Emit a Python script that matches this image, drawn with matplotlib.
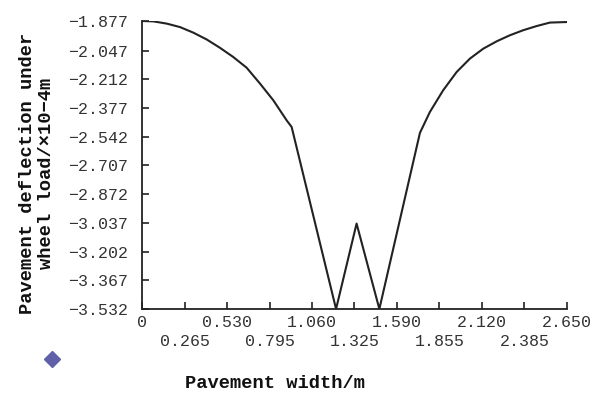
import matplotlib
matplotlib.use("Agg")
import matplotlib.pyplot as plt

# pavement width (m) and deflection (x10^-4 m)
width = [0.0, 0.070, 0.154, 0.237, 0.320, 0.403, 0.486, 0.569, 0.653, 0.736,
         0.819, 0.902, 0.933,
         1.21, 1.338, 1.48,
         1.733, 1.795, 1.878, 1.962, 2.045, 2.128, 2.211, 2.294, 2.377,
         2.461, 2.544, 2.648]
deflection = [-1.877, -1.879, -1.892, -1.912, -1.944, -1.983, -2.031, -2.084,
              -2.146, -2.237, -2.333, -2.448, -2.486,
              -3.532, -3.041, -3.532,
              -2.520, -2.400, -2.275, -2.170, -2.093, -2.036, -1.994, -1.959,
              -1.930, -1.906, -1.886, -1.883]

yticks = [-1.877, -2.047, -2.212, -2.377, -2.542, -2.707, -2.872,
          -3.037, -3.202, -3.367, -3.532]
xticks_top = [0, 0.530, 1.060, 1.590, 2.120, 2.650]
xticks_low = [0.265, 0.795, 1.325, 1.855, 2.385]

mono = "Liberation Mono"
ink = "#222222"

fig = plt.figure(figsize=(5.97, 3.94), dpi=100)
ax = fig.add_axes([0.2379, 0.2157, 0.7118, 0.731])

ax.plot(width, deflection, color=ink, lw=1.5)

ax.set_xlim(0, 2.65)
ax.set_ylim(-3.532, -1.877)
for s in ("top", "right"):
    ax.spines[s].set_visible(False)
for s in ("left", "bottom"):
    ax.spines[s].set_linewidth(1.3)
    ax.spines[s].set_color(ink)

ax.set_yticks(yticks)
ax.set_yticklabels([f"{v:.3f}".replace("-", "\u2212") for v in yticks])
ax.set_xticks(xticks_top)
ax.set_xticklabels(["0" if v == 0 else f"{v:.3f}" for v in xticks_top])
ax.set_xticks(xticks_low, minor=True)
ax.set_xticklabels([f"{v:.3f}" for v in xticks_low], minor=True)

ax.tick_params(axis="y", direction="in", length=5, width=1.2, pad=10,
               labelsize=12, labelcolor="#333333", color=ink)
ax.tick_params(axis="x", which="major", direction="in", length=5, width=1.2,
               pad=4, labelsize=12, labelcolor="#333333", color=ink)
ax.tick_params(axis="x", which="minor", direction="in", length=5, width=1.2,
               pad=18, labelsize=12, labelcolor="#333333", color=ink)
for lab in ax.get_xticklabels(which="both") + ax.get_yticklabels():
    lab.set_family(mono)

fig.text(37 / 597, 1 - 173 / 394, "Pavement deflection under\nwheel load/\u00d710\u22124m",
         rotation=90, ha="center", va="center", family=mono,
         fontweight="bold", fontsize=13.5, linespacing=1.2, color="#111111")
fig.text(275 / 597, 1 - 383 / 394, "Pavement width/m", ha="center", va="center",
         family=mono, fontweight="bold", fontsize=13.5, color="#111111")

fig.lines.append(plt.Line2D([51.7 / 597], [1 - 359.3 / 394], marker="D",
                            markersize=8, color="#6060a8", ls="none",
                            transform=fig.transFigure))

fig.savefig("out.png", dpi=100)
